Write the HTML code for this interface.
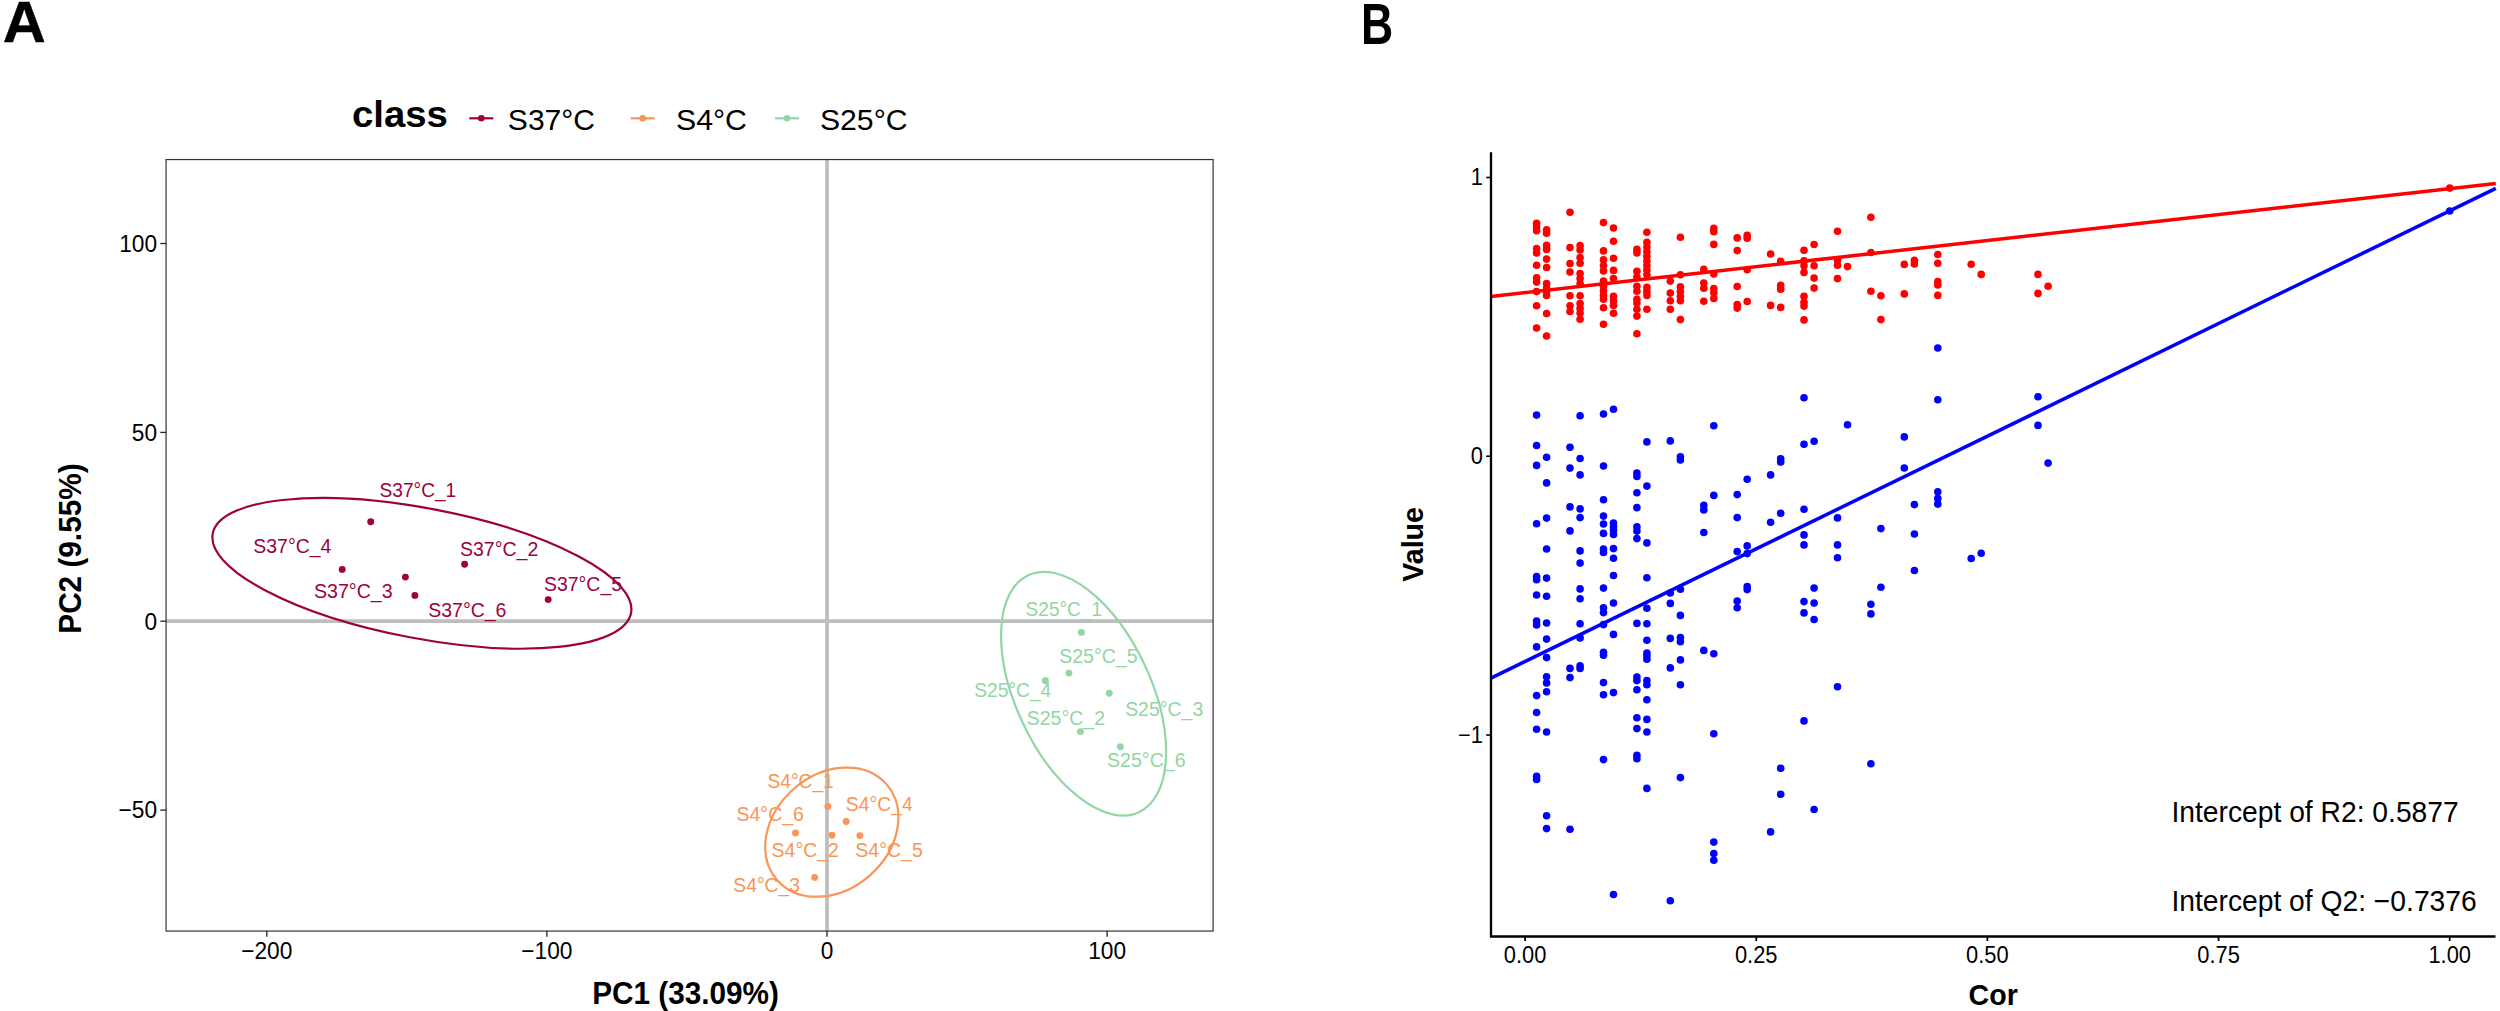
<!DOCTYPE html>
<html lang="en"><head><meta charset="utf-8"><title>PCA score plot and permutation test</title>
<style>
html,body{margin:0;padding:0;background:#fff;}
body{width:2500px;height:1011px;overflow:hidden;}
svg{display:block;}
text{font-family:"Liberation Sans",Arial,Helvetica,sans-serif;}
.b{font-weight:bold;}
</style></head><body>
<svg width="2500" height="1011" viewBox="0 0 2500 1011">
<rect x="0" y="0" width="2500" height="1011" fill="#ffffff"/>

<line x1="166.05" x2="1213.1" y1="621.05" y2="621.05" stroke="#BEBEBE" stroke-width="3.8"/>
<line x1="827.0" x2="827.0" y1="159.55" y2="931.05" stroke="#BEBEBE" stroke-width="3.8"/>
<ellipse cx="421.9" cy="573.3" rx="212.9" ry="65.1" transform="rotate(10.75 421.9 573.3)" fill="none" stroke="#9E0142" stroke-width="2.2"/>
<ellipse cx="1083.6" cy="693.7" rx="130.8" ry="67.5" transform="rotate(64.95 1083.6 693.7)" fill="none" stroke="#93D5A3" stroke-width="2.2"/>
<ellipse cx="831.8" cy="832.15" rx="72.7" ry="57.6" transform="rotate(-41.1 831.8 832.15)" fill="none" stroke="#F99555" stroke-width="2.2"/>
<circle cx="370.7" cy="521.7" r="3.45" fill="#9E0142"/>
<circle cx="342.2" cy="569.4" r="3.45" fill="#9E0142"/>
<circle cx="405.4" cy="577.1" r="3.45" fill="#9E0142"/>
<circle cx="414.9" cy="595.4" r="3.45" fill="#9E0142"/>
<circle cx="464.6" cy="564.3" r="3.45" fill="#9E0142"/>
<circle cx="548.2" cy="599.6" r="3.45" fill="#9E0142"/>
<circle cx="1081.4" cy="632.4" r="3.45" fill="#93D5A3"/>
<circle cx="1068.9" cy="673.1" r="3.45" fill="#93D5A3"/>
<circle cx="1045.4" cy="680.8" r="3.45" fill="#93D5A3"/>
<circle cx="1109.3" cy="693.2" r="3.45" fill="#93D5A3"/>
<circle cx="1080.4" cy="731.6" r="3.45" fill="#93D5A3"/>
<circle cx="1120.4" cy="746.7" r="3.45" fill="#93D5A3"/>
<circle cx="827.9" cy="806.4" r="3.45" fill="#F99555"/>
<circle cx="846.2" cy="821.5" r="3.45" fill="#F99555"/>
<circle cx="795.5" cy="832.9" r="3.45" fill="#F99555"/>
<circle cx="832.0" cy="835.2" r="3.45" fill="#F99555"/>
<circle cx="859.9" cy="835.6" r="3.45" fill="#F99555"/>
<circle cx="814.7" cy="877.4" r="3.45" fill="#F99555"/>
<text x="379.50" y="497.00" font-size="20.0" fill="#9E0142" textLength="76.76" lengthAdjust="spacingAndGlyphs">S37°C_1</text>
<text x="253.37" y="553.00" font-size="20.0" fill="#9E0142" textLength="77.93" lengthAdjust="spacingAndGlyphs">S37°C_4</text>
<text x="459.96" y="556.00" font-size="20.0" fill="#9E0142" textLength="78.36" lengthAdjust="spacingAndGlyphs">S37°C_2</text>
<text x="313.96" y="598.10" font-size="20.0" fill="#9E0142" textLength="78.66" lengthAdjust="spacingAndGlyphs">S37°C_3</text>
<text x="428.27" y="616.80" font-size="20.0" fill="#9E0142" textLength="78.09" lengthAdjust="spacingAndGlyphs">S37°C_6</text>
<text x="543.97" y="590.80" font-size="20.0" fill="#9E0142" textLength="78.08" lengthAdjust="spacingAndGlyphs">S37°C_5</text>
<text x="1025.60" y="615.60" font-size="20.0" fill="#93D5A3" textLength="76.45" lengthAdjust="spacingAndGlyphs">S25°C_1</text>
<text x="1059.27" y="662.60" font-size="20.0" fill="#93D5A3" textLength="78.29" lengthAdjust="spacingAndGlyphs">S25°C_5</text>
<text x="974.19" y="696.90" font-size="20.0" fill="#93D5A3" textLength="77.11" lengthAdjust="spacingAndGlyphs">S25°C_4</text>
<text x="1125.17" y="716.40" font-size="20.0" fill="#93D5A3" textLength="78.04" lengthAdjust="spacingAndGlyphs">S25°C_3</text>
<text x="1026.66" y="724.80" font-size="20.0" fill="#93D5A3" textLength="78.36" lengthAdjust="spacingAndGlyphs">S25°C_2</text>
<text x="1106.96" y="766.90" font-size="20.0" fill="#93D5A3" textLength="78.71" lengthAdjust="spacingAndGlyphs">S25°C_6</text>
<text x="767.49" y="787.70" font-size="20.0" fill="#F99555" textLength="66.28" lengthAdjust="spacingAndGlyphs">S4°C_1</text>
<text x="845.78" y="811.20" font-size="20.0" fill="#F99555" textLength="66.93" lengthAdjust="spacingAndGlyphs">S4°C_4</text>
<text x="736.46" y="821.00" font-size="20.0" fill="#F99555" textLength="67.50" lengthAdjust="spacingAndGlyphs">S4°C_6</text>
<text x="771.57" y="856.60" font-size="20.0" fill="#F99555" textLength="67.32" lengthAdjust="spacingAndGlyphs">S4°C_2</text>
<text x="855.26" y="856.60" font-size="20.0" fill="#F99555" textLength="67.70" lengthAdjust="spacingAndGlyphs">S4°C_5</text>
<text x="733.28" y="892.20" font-size="20.0" fill="#F99555" textLength="66.79" lengthAdjust="spacingAndGlyphs">S4°C_3</text>
<rect x="166.05" y="159.55" width="1047.05" height="771.5" fill="none" stroke="#333333" stroke-width="1.2"/>
<line x1="160.3" x2="166.05" y1="243.5" y2="243.5" stroke="#222" stroke-width="1.3"/>
<text x="157.10" y="251.80" font-size="23.56" fill="#000" text-anchor="end" textLength="37.86" lengthAdjust="spacingAndGlyphs">100</text>
<line x1="160.3" x2="166.05" y1="432.4" y2="432.4" stroke="#222" stroke-width="1.3"/>
<text x="157.10" y="440.70" font-size="23.56" fill="#000" text-anchor="end" textLength="25.24" lengthAdjust="spacingAndGlyphs">50</text>
<line x1="160.3" x2="166.05" y1="621.2" y2="621.2" stroke="#222" stroke-width="1.3"/>
<text x="157.10" y="629.50" font-size="23.56" fill="#000" text-anchor="end" textLength="12.62" lengthAdjust="spacingAndGlyphs">0</text>
<line x1="160.3" x2="166.05" y1="810.1" y2="810.1" stroke="#222" stroke-width="1.3"/>
<text x="157.10" y="818.40" font-size="23.56" fill="#000" text-anchor="end" textLength="38.50" lengthAdjust="spacingAndGlyphs">−50</text>
<line x1="266.8" x2="266.8" y1="931.05" y2="936.7" stroke="#222" stroke-width="1.3"/>
<text x="266.80" y="959.10" font-size="23.56" fill="#000" text-anchor="middle" textLength="51.12" lengthAdjust="spacingAndGlyphs">−200</text>
<line x1="546.9" x2="546.9" y1="931.05" y2="936.7" stroke="#222" stroke-width="1.3"/>
<text x="546.90" y="959.10" font-size="23.56" fill="#000" text-anchor="middle" textLength="51.12" lengthAdjust="spacingAndGlyphs">−100</text>
<line x1="827.0" x2="827.0" y1="931.05" y2="936.7" stroke="#222" stroke-width="1.3"/>
<text x="827.00" y="959.10" font-size="23.56" fill="#000" text-anchor="middle" textLength="12.62" lengthAdjust="spacingAndGlyphs">0</text>
<line x1="1107.1" x2="1107.1" y1="931.05" y2="936.7" stroke="#222" stroke-width="1.3"/>
<text x="1107.10" y="959.10" font-size="23.56" fill="#000" text-anchor="middle" textLength="37.86" lengthAdjust="spacingAndGlyphs">100</text>
<line x1="469.3" x2="493.3" y1="118.3" y2="118.3" stroke="#9E0142" stroke-width="2.2"/>
<circle cx="481.3" cy="118.3" r="3.3" fill="#9E0142"/>
<line x1="630.7" x2="654.7" y1="118.3" y2="118.3" stroke="#F99555" stroke-width="2.2"/>
<circle cx="642.7" cy="118.3" r="3.3" fill="#F99555"/>
<line x1="775" x2="799" y1="118.3" y2="118.3" stroke="#93D5A3" stroke-width="2.2"/>
<circle cx="787" cy="118.3" r="3.3" fill="#93D5A3"/>
<circle cx="1536.6" cy="223.4" r="3.8" fill="#FF0000"/>
<circle cx="1536.6" cy="227.2" r="3.8" fill="#FF0000"/>
<circle cx="1536.6" cy="230.7" r="3.8" fill="#FF0000"/>
<circle cx="1536.6" cy="248.6" r="3.8" fill="#FF0000"/>
<circle cx="1536.6" cy="252.9" r="3.8" fill="#FF0000"/>
<circle cx="1536.6" cy="265.2" r="3.8" fill="#FF0000"/>
<circle cx="1536.6" cy="277.8" r="3.8" fill="#FF0000"/>
<circle cx="1536.6" cy="282.1" r="3.8" fill="#FF0000"/>
<circle cx="1536.6" cy="291.6" r="3.8" fill="#FF0000"/>
<circle cx="1536.6" cy="305.8" r="3.8" fill="#FF0000"/>
<circle cx="1536.6" cy="328.0" r="3.8" fill="#FF0000"/>
<circle cx="1546.6" cy="229.9" r="3.8" fill="#FF0000"/>
<circle cx="1546.6" cy="233.3" r="3.8" fill="#FF0000"/>
<circle cx="1546.6" cy="245.3" r="3.8" fill="#FF0000"/>
<circle cx="1546.6" cy="249.4" r="3.8" fill="#FF0000"/>
<circle cx="1546.6" cy="259.1" r="3.8" fill="#FF0000"/>
<circle cx="1546.6" cy="267.5" r="3.8" fill="#FF0000"/>
<circle cx="1546.6" cy="283.6" r="3.8" fill="#FF0000"/>
<circle cx="1546.6" cy="287.7" r="3.8" fill="#FF0000"/>
<circle cx="1546.6" cy="291.6" r="3.8" fill="#FF0000"/>
<circle cx="1546.6" cy="295.4" r="3.8" fill="#FF0000"/>
<circle cx="1546.6" cy="313.5" r="3.8" fill="#FF0000"/>
<circle cx="1546.6" cy="336.0" r="3.8" fill="#FF0000"/>
<circle cx="1570.0" cy="212.3" r="3.8" fill="#FF0000"/>
<circle cx="1570.0" cy="247.6" r="3.8" fill="#FF0000"/>
<circle cx="1570.0" cy="263.5" r="3.8" fill="#FF0000"/>
<circle cx="1570.0" cy="272.1" r="3.8" fill="#FF0000"/>
<circle cx="1570.0" cy="295.7" r="3.8" fill="#FF0000"/>
<circle cx="1570.0" cy="305.7" r="3.8" fill="#FF0000"/>
<circle cx="1570.0" cy="311.5" r="3.8" fill="#FF0000"/>
<circle cx="1580.1" cy="245.6" r="3.8" fill="#FF0000"/>
<circle cx="1580.1" cy="249.9" r="3.8" fill="#FF0000"/>
<circle cx="1580.1" cy="257.5" r="3.8" fill="#FF0000"/>
<circle cx="1580.1" cy="263.2" r="3.8" fill="#FF0000"/>
<circle cx="1580.1" cy="273.5" r="3.8" fill="#FF0000"/>
<circle cx="1580.1" cy="278.5" r="3.8" fill="#FF0000"/>
<circle cx="1580.1" cy="283.6" r="3.8" fill="#FF0000"/>
<circle cx="1580.1" cy="295.7" r="3.8" fill="#FF0000"/>
<circle cx="1580.1" cy="303.5" r="3.8" fill="#FF0000"/>
<circle cx="1580.1" cy="308.4" r="3.8" fill="#FF0000"/>
<circle cx="1580.1" cy="313.0" r="3.8" fill="#FF0000"/>
<circle cx="1580.1" cy="319.2" r="3.8" fill="#FF0000"/>
<circle cx="1603.5" cy="222.6" r="3.8" fill="#FF0000"/>
<circle cx="1603.5" cy="250.9" r="3.8" fill="#FF0000"/>
<circle cx="1603.5" cy="259.7" r="3.8" fill="#FF0000"/>
<circle cx="1603.5" cy="265.5" r="3.8" fill="#FF0000"/>
<circle cx="1603.5" cy="270.9" r="3.8" fill="#FF0000"/>
<circle cx="1603.5" cy="281.1" r="3.8" fill="#FF0000"/>
<circle cx="1603.5" cy="286.2" r="3.8" fill="#FF0000"/>
<circle cx="1603.5" cy="290.8" r="3.8" fill="#FF0000"/>
<circle cx="1603.5" cy="295.4" r="3.8" fill="#FF0000"/>
<circle cx="1603.5" cy="299.2" r="3.8" fill="#FF0000"/>
<circle cx="1603.5" cy="307.7" r="3.8" fill="#FF0000"/>
<circle cx="1603.5" cy="324.2" r="3.8" fill="#FF0000"/>
<circle cx="1613.5" cy="228.0" r="3.8" fill="#FF0000"/>
<circle cx="1613.5" cy="241.3" r="3.8" fill="#FF0000"/>
<circle cx="1613.5" cy="258.3" r="3.8" fill="#FF0000"/>
<circle cx="1613.5" cy="270.4" r="3.8" fill="#FF0000"/>
<circle cx="1613.5" cy="278.5" r="3.8" fill="#FF0000"/>
<circle cx="1613.5" cy="296.2" r="3.8" fill="#FF0000"/>
<circle cx="1613.5" cy="300.8" r="3.8" fill="#FF0000"/>
<circle cx="1613.5" cy="305.4" r="3.8" fill="#FF0000"/>
<circle cx="1613.5" cy="313.3" r="3.8" fill="#FF0000"/>
<circle cx="1636.9" cy="249.4" r="3.8" fill="#FF0000"/>
<circle cx="1636.9" cy="252.9" r="3.8" fill="#FF0000"/>
<circle cx="1636.9" cy="271.3" r="3.8" fill="#FF0000"/>
<circle cx="1636.9" cy="277.0" r="3.8" fill="#FF0000"/>
<circle cx="1636.9" cy="286.2" r="3.8" fill="#FF0000"/>
<circle cx="1636.9" cy="291.3" r="3.8" fill="#FF0000"/>
<circle cx="1636.9" cy="299.2" r="3.8" fill="#FF0000"/>
<circle cx="1636.9" cy="303.1" r="3.8" fill="#FF0000"/>
<circle cx="1636.9" cy="309.2" r="3.8" fill="#FF0000"/>
<circle cx="1636.9" cy="316.1" r="3.8" fill="#FF0000"/>
<circle cx="1636.9" cy="333.7" r="3.8" fill="#FF0000"/>
<circle cx="1646.9" cy="232.2" r="3.8" fill="#FF0000"/>
<circle cx="1646.9" cy="242.2" r="3.8" fill="#FF0000"/>
<circle cx="1646.9" cy="247.1" r="3.8" fill="#FF0000"/>
<circle cx="1646.9" cy="251.7" r="3.8" fill="#FF0000"/>
<circle cx="1646.9" cy="256.3" r="3.8" fill="#FF0000"/>
<circle cx="1646.9" cy="260.9" r="3.8" fill="#FF0000"/>
<circle cx="1646.9" cy="265.5" r="3.8" fill="#FF0000"/>
<circle cx="1646.9" cy="270.1" r="3.8" fill="#FF0000"/>
<circle cx="1646.9" cy="274.7" r="3.8" fill="#FF0000"/>
<circle cx="1646.9" cy="287.4" r="3.8" fill="#FF0000"/>
<circle cx="1646.9" cy="291.6" r="3.8" fill="#FF0000"/>
<circle cx="1646.9" cy="295.4" r="3.8" fill="#FF0000"/>
<circle cx="1646.9" cy="309.2" r="3.8" fill="#FF0000"/>
<circle cx="1670.3" cy="281.1" r="3.8" fill="#FF0000"/>
<circle cx="1670.3" cy="293.1" r="3.8" fill="#FF0000"/>
<circle cx="1670.3" cy="300.8" r="3.8" fill="#FF0000"/>
<circle cx="1670.3" cy="309.2" r="3.8" fill="#FF0000"/>
<circle cx="1680.4" cy="237.2" r="3.8" fill="#FF0000"/>
<circle cx="1680.4" cy="274.7" r="3.8" fill="#FF0000"/>
<circle cx="1680.4" cy="286.7" r="3.8" fill="#FF0000"/>
<circle cx="1680.4" cy="291.6" r="3.8" fill="#FF0000"/>
<circle cx="1680.4" cy="296.2" r="3.8" fill="#FF0000"/>
<circle cx="1680.4" cy="300.8" r="3.8" fill="#FF0000"/>
<circle cx="1680.4" cy="319.6" r="3.8" fill="#FF0000"/>
<circle cx="1703.8" cy="269.3" r="3.8" fill="#FF0000"/>
<circle cx="1703.8" cy="283.1" r="3.8" fill="#FF0000"/>
<circle cx="1703.8" cy="288.2" r="3.8" fill="#FF0000"/>
<circle cx="1703.8" cy="301.2" r="3.8" fill="#FF0000"/>
<circle cx="1713.8" cy="228.4" r="3.8" fill="#FF0000"/>
<circle cx="1713.8" cy="231.8" r="3.8" fill="#FF0000"/>
<circle cx="1713.8" cy="244.4" r="3.8" fill="#FF0000"/>
<circle cx="1713.8" cy="273.9" r="3.8" fill="#FF0000"/>
<circle cx="1713.8" cy="288.5" r="3.8" fill="#FF0000"/>
<circle cx="1713.8" cy="292.8" r="3.8" fill="#FF0000"/>
<circle cx="1713.8" cy="298.5" r="3.8" fill="#FF0000"/>
<circle cx="1737.2" cy="237.9" r="3.8" fill="#FF0000"/>
<circle cx="1737.2" cy="250.6" r="3.8" fill="#FF0000"/>
<circle cx="1737.2" cy="286.5" r="3.8" fill="#FF0000"/>
<circle cx="1737.2" cy="304.6" r="3.8" fill="#FF0000"/>
<circle cx="1737.2" cy="308.1" r="3.8" fill="#FF0000"/>
<circle cx="1747.2" cy="235.2" r="3.8" fill="#FF0000"/>
<circle cx="1747.2" cy="238.2" r="3.8" fill="#FF0000"/>
<circle cx="1747.2" cy="269.8" r="3.8" fill="#FF0000"/>
<circle cx="1747.2" cy="301.5" r="3.8" fill="#FF0000"/>
<circle cx="1770.6" cy="254.0" r="3.8" fill="#FF0000"/>
<circle cx="1770.6" cy="305.4" r="3.8" fill="#FF0000"/>
<circle cx="1780.7" cy="261.2" r="3.8" fill="#FF0000"/>
<circle cx="1780.7" cy="285.4" r="3.8" fill="#FF0000"/>
<circle cx="1780.7" cy="289.3" r="3.8" fill="#FF0000"/>
<circle cx="1780.7" cy="307.4" r="3.8" fill="#FF0000"/>
<circle cx="1804.0" cy="250.2" r="3.8" fill="#FF0000"/>
<circle cx="1804.0" cy="260.9" r="3.8" fill="#FF0000"/>
<circle cx="1804.0" cy="265.8" r="3.8" fill="#FF0000"/>
<circle cx="1804.0" cy="272.4" r="3.8" fill="#FF0000"/>
<circle cx="1804.0" cy="296.2" r="3.8" fill="#FF0000"/>
<circle cx="1804.0" cy="302.3" r="3.8" fill="#FF0000"/>
<circle cx="1804.0" cy="306.1" r="3.8" fill="#FF0000"/>
<circle cx="1804.0" cy="319.9" r="3.8" fill="#FF0000"/>
<circle cx="1814.1" cy="244.5" r="3.8" fill="#FF0000"/>
<circle cx="1814.1" cy="265.8" r="3.8" fill="#FF0000"/>
<circle cx="1814.1" cy="278.1" r="3.8" fill="#FF0000"/>
<circle cx="1814.1" cy="288.1" r="3.8" fill="#FF0000"/>
<circle cx="1837.5" cy="231.3" r="3.8" fill="#FF0000"/>
<circle cx="1837.5" cy="260.2" r="3.8" fill="#FF0000"/>
<circle cx="1837.5" cy="265.2" r="3.8" fill="#FF0000"/>
<circle cx="1837.5" cy="278.6" r="3.8" fill="#FF0000"/>
<circle cx="1847.5" cy="266.6" r="3.8" fill="#FF0000"/>
<circle cx="1870.9" cy="217.2" r="3.8" fill="#FF0000"/>
<circle cx="1870.9" cy="252.5" r="3.8" fill="#FF0000"/>
<circle cx="1870.9" cy="291.3" r="3.8" fill="#FF0000"/>
<circle cx="1880.9" cy="295.7" r="3.8" fill="#FF0000"/>
<circle cx="1880.9" cy="319.6" r="3.8" fill="#FF0000"/>
<circle cx="1904.3" cy="264.4" r="3.8" fill="#FF0000"/>
<circle cx="1904.3" cy="293.9" r="3.8" fill="#FF0000"/>
<circle cx="1914.4" cy="260.2" r="3.8" fill="#FF0000"/>
<circle cx="1914.4" cy="264.0" r="3.8" fill="#FF0000"/>
<circle cx="1937.8" cy="254.5" r="3.8" fill="#FF0000"/>
<circle cx="1937.8" cy="263.2" r="3.8" fill="#FF0000"/>
<circle cx="1937.8" cy="281.6" r="3.8" fill="#FF0000"/>
<circle cx="1937.8" cy="285.0" r="3.8" fill="#FF0000"/>
<circle cx="1937.8" cy="295.4" r="3.8" fill="#FF0000"/>
<circle cx="1971.2" cy="264.3" r="3.8" fill="#FF0000"/>
<circle cx="1981.2" cy="274.4" r="3.8" fill="#FF0000"/>
<circle cx="2038.0" cy="274.4" r="3.8" fill="#FF0000"/>
<circle cx="2038.0" cy="293.4" r="3.8" fill="#FF0000"/>
<circle cx="2048.1" cy="286.2" r="3.8" fill="#FF0000"/>
<circle cx="2449.7" cy="188.1" r="3.8" fill="#FF0000"/>
<circle cx="1536.6" cy="415.1" r="3.8" fill="#0000FF"/>
<circle cx="1580.1" cy="415.7" r="3.8" fill="#0000FF"/>
<circle cx="1603.5" cy="414.0" r="3.8" fill="#0000FF"/>
<circle cx="1613.5" cy="409.3" r="3.8" fill="#0000FF"/>
<circle cx="1713.8" cy="425.8" r="3.8" fill="#0000FF"/>
<circle cx="1536.6" cy="445.5" r="3.8" fill="#0000FF"/>
<circle cx="1570.0" cy="447.3" r="3.8" fill="#0000FF"/>
<circle cx="1646.9" cy="441.9" r="3.8" fill="#0000FF"/>
<circle cx="1670.3" cy="440.9" r="3.8" fill="#0000FF"/>
<circle cx="1546.6" cy="457.3" r="3.8" fill="#0000FF"/>
<circle cx="1580.1" cy="458.5" r="3.8" fill="#0000FF"/>
<circle cx="1680.4" cy="456.8" r="3.8" fill="#0000FF"/>
<circle cx="1680.4" cy="459.9" r="3.8" fill="#0000FF"/>
<circle cx="1536.6" cy="465.4" r="3.8" fill="#0000FF"/>
<circle cx="1570.0" cy="468.1" r="3.8" fill="#0000FF"/>
<circle cx="1603.5" cy="466.0" r="3.8" fill="#0000FF"/>
<circle cx="1580.1" cy="474.9" r="3.8" fill="#0000FF"/>
<circle cx="1636.9" cy="473.0" r="3.8" fill="#0000FF"/>
<circle cx="1636.9" cy="476.4" r="3.8" fill="#0000FF"/>
<circle cx="1546.6" cy="482.9" r="3.8" fill="#0000FF"/>
<circle cx="1646.9" cy="486.1" r="3.8" fill="#0000FF"/>
<circle cx="1747.2" cy="479.2" r="3.8" fill="#0000FF"/>
<circle cx="1536.6" cy="523.7" r="3.8" fill="#0000FF"/>
<circle cx="1536.6" cy="576.6" r="3.8" fill="#0000FF"/>
<circle cx="1536.6" cy="579.7" r="3.8" fill="#0000FF"/>
<circle cx="1536.6" cy="595.0" r="3.8" fill="#0000FF"/>
<circle cx="1536.6" cy="621.1" r="3.8" fill="#0000FF"/>
<circle cx="1536.6" cy="624.9" r="3.8" fill="#0000FF"/>
<circle cx="1546.6" cy="518.1" r="3.8" fill="#0000FF"/>
<circle cx="1546.6" cy="549.0" r="3.8" fill="#0000FF"/>
<circle cx="1546.6" cy="578.1" r="3.8" fill="#0000FF"/>
<circle cx="1546.6" cy="596.2" r="3.8" fill="#0000FF"/>
<circle cx="1546.6" cy="623.0" r="3.8" fill="#0000FF"/>
<circle cx="1546.6" cy="639.1" r="3.8" fill="#0000FF"/>
<circle cx="1570.0" cy="506.9" r="3.8" fill="#0000FF"/>
<circle cx="1570.0" cy="530.9" r="3.8" fill="#0000FF"/>
<circle cx="1580.1" cy="508.9" r="3.8" fill="#0000FF"/>
<circle cx="1580.1" cy="517.6" r="3.8" fill="#0000FF"/>
<circle cx="1580.1" cy="550.9" r="3.8" fill="#0000FF"/>
<circle cx="1580.1" cy="563.1" r="3.8" fill="#0000FF"/>
<circle cx="1580.1" cy="588.9" r="3.8" fill="#0000FF"/>
<circle cx="1580.1" cy="598.8" r="3.8" fill="#0000FF"/>
<circle cx="1580.1" cy="623.7" r="3.8" fill="#0000FF"/>
<circle cx="1580.1" cy="637.9" r="3.8" fill="#0000FF"/>
<circle cx="1603.5" cy="499.7" r="3.8" fill="#0000FF"/>
<circle cx="1603.5" cy="516.1" r="3.8" fill="#0000FF"/>
<circle cx="1603.5" cy="524.0" r="3.8" fill="#0000FF"/>
<circle cx="1603.5" cy="533.4" r="3.8" fill="#0000FF"/>
<circle cx="1603.5" cy="549.0" r="3.8" fill="#0000FF"/>
<circle cx="1603.5" cy="552.5" r="3.8" fill="#0000FF"/>
<circle cx="1603.5" cy="588.1" r="3.8" fill="#0000FF"/>
<circle cx="1603.5" cy="607.7" r="3.8" fill="#0000FF"/>
<circle cx="1603.5" cy="612.6" r="3.8" fill="#0000FF"/>
<circle cx="1603.5" cy="624.6" r="3.8" fill="#0000FF"/>
<circle cx="1613.5" cy="523.0" r="3.8" fill="#0000FF"/>
<circle cx="1613.5" cy="526.8" r="3.8" fill="#0000FF"/>
<circle cx="1613.5" cy="530.2" r="3.8" fill="#0000FF"/>
<circle cx="1613.5" cy="534.5" r="3.8" fill="#0000FF"/>
<circle cx="1613.5" cy="548.6" r="3.8" fill="#0000FF"/>
<circle cx="1613.5" cy="558.2" r="3.8" fill="#0000FF"/>
<circle cx="1613.5" cy="575.5" r="3.8" fill="#0000FF"/>
<circle cx="1613.5" cy="603.0" r="3.8" fill="#0000FF"/>
<circle cx="1613.5" cy="634.4" r="3.8" fill="#0000FF"/>
<circle cx="1636.9" cy="492.8" r="3.8" fill="#0000FF"/>
<circle cx="1636.9" cy="507.6" r="3.8" fill="#0000FF"/>
<circle cx="1636.9" cy="526.8" r="3.8" fill="#0000FF"/>
<circle cx="1636.9" cy="531.1" r="3.8" fill="#0000FF"/>
<circle cx="1636.9" cy="538.6" r="3.8" fill="#0000FF"/>
<circle cx="1636.9" cy="623.4" r="3.8" fill="#0000FF"/>
<circle cx="1646.9" cy="542.9" r="3.8" fill="#0000FF"/>
<circle cx="1646.9" cy="577.7" r="3.8" fill="#0000FF"/>
<circle cx="1646.9" cy="608.3" r="3.8" fill="#0000FF"/>
<circle cx="1646.9" cy="623.8" r="3.8" fill="#0000FF"/>
<circle cx="1646.9" cy="640.2" r="3.8" fill="#0000FF"/>
<circle cx="1670.3" cy="593.0" r="3.8" fill="#0000FF"/>
<circle cx="1670.3" cy="603.4" r="3.8" fill="#0000FF"/>
<circle cx="1670.3" cy="638.4" r="3.8" fill="#0000FF"/>
<circle cx="1680.4" cy="589.3" r="3.8" fill="#0000FF"/>
<circle cx="1680.4" cy="615.4" r="3.8" fill="#0000FF"/>
<circle cx="1680.4" cy="637.5" r="3.8" fill="#0000FF"/>
<circle cx="1680.4" cy="641.7" r="3.8" fill="#0000FF"/>
<circle cx="1703.8" cy="505.3" r="3.8" fill="#0000FF"/>
<circle cx="1703.8" cy="509.9" r="3.8" fill="#0000FF"/>
<circle cx="1703.8" cy="532.5" r="3.8" fill="#0000FF"/>
<circle cx="1713.8" cy="495.4" r="3.8" fill="#0000FF"/>
<circle cx="1737.2" cy="494.6" r="3.8" fill="#0000FF"/>
<circle cx="1737.2" cy="517.6" r="3.8" fill="#0000FF"/>
<circle cx="1737.2" cy="551.6" r="3.8" fill="#0000FF"/>
<circle cx="1737.2" cy="601.1" r="3.8" fill="#0000FF"/>
<circle cx="1737.2" cy="607.7" r="3.8" fill="#0000FF"/>
<circle cx="1747.2" cy="545.9" r="3.8" fill="#0000FF"/>
<circle cx="1747.2" cy="553.6" r="3.8" fill="#0000FF"/>
<circle cx="1747.2" cy="586.6" r="3.8" fill="#0000FF"/>
<circle cx="1747.2" cy="589.6" r="3.8" fill="#0000FF"/>
<circle cx="1536.6" cy="646.9" r="3.8" fill="#0000FF"/>
<circle cx="1536.6" cy="695.6" r="3.8" fill="#0000FF"/>
<circle cx="1536.6" cy="712.5" r="3.8" fill="#0000FF"/>
<circle cx="1536.6" cy="729.2" r="3.8" fill="#0000FF"/>
<circle cx="1536.6" cy="776.4" r="3.8" fill="#0000FF"/>
<circle cx="1536.6" cy="779.5" r="3.8" fill="#0000FF"/>
<circle cx="1546.6" cy="657.6" r="3.8" fill="#0000FF"/>
<circle cx="1546.6" cy="676.8" r="3.8" fill="#0000FF"/>
<circle cx="1546.6" cy="682.9" r="3.8" fill="#0000FF"/>
<circle cx="1546.6" cy="691.7" r="3.8" fill="#0000FF"/>
<circle cx="1546.6" cy="732.0" r="3.8" fill="#0000FF"/>
<circle cx="1570.0" cy="668.4" r="3.8" fill="#0000FF"/>
<circle cx="1570.0" cy="677.6" r="3.8" fill="#0000FF"/>
<circle cx="1580.1" cy="665.8" r="3.8" fill="#0000FF"/>
<circle cx="1580.1" cy="668.4" r="3.8" fill="#0000FF"/>
<circle cx="1603.5" cy="652.3" r="3.8" fill="#0000FF"/>
<circle cx="1603.5" cy="655.3" r="3.8" fill="#0000FF"/>
<circle cx="1603.5" cy="682.6" r="3.8" fill="#0000FF"/>
<circle cx="1603.5" cy="694.7" r="3.8" fill="#0000FF"/>
<circle cx="1603.5" cy="759.6" r="3.8" fill="#0000FF"/>
<circle cx="1613.5" cy="692.6" r="3.8" fill="#0000FF"/>
<circle cx="1636.9" cy="677.1" r="3.8" fill="#0000FF"/>
<circle cx="1636.9" cy="680.6" r="3.8" fill="#0000FF"/>
<circle cx="1636.9" cy="689.8" r="3.8" fill="#0000FF"/>
<circle cx="1636.9" cy="717.7" r="3.8" fill="#0000FF"/>
<circle cx="1636.9" cy="728.6" r="3.8" fill="#0000FF"/>
<circle cx="1636.9" cy="755.3" r="3.8" fill="#0000FF"/>
<circle cx="1636.9" cy="758.8" r="3.8" fill="#0000FF"/>
<circle cx="1646.9" cy="653.0" r="3.8" fill="#0000FF"/>
<circle cx="1646.9" cy="656.1" r="3.8" fill="#0000FF"/>
<circle cx="1646.9" cy="659.2" r="3.8" fill="#0000FF"/>
<circle cx="1646.9" cy="680.6" r="3.8" fill="#0000FF"/>
<circle cx="1646.9" cy="684.8" r="3.8" fill="#0000FF"/>
<circle cx="1646.9" cy="699.8" r="3.8" fill="#0000FF"/>
<circle cx="1646.9" cy="719.4" r="3.8" fill="#0000FF"/>
<circle cx="1646.9" cy="732.0" r="3.8" fill="#0000FF"/>
<circle cx="1646.9" cy="788.4" r="3.8" fill="#0000FF"/>
<circle cx="1670.3" cy="667.9" r="3.8" fill="#0000FF"/>
<circle cx="1680.4" cy="659.9" r="3.8" fill="#0000FF"/>
<circle cx="1680.4" cy="684.8" r="3.8" fill="#0000FF"/>
<circle cx="1680.4" cy="777.6" r="3.8" fill="#0000FF"/>
<circle cx="1703.8" cy="650.4" r="3.8" fill="#0000FF"/>
<circle cx="1713.8" cy="653.8" r="3.8" fill="#0000FF"/>
<circle cx="1713.8" cy="733.8" r="3.8" fill="#0000FF"/>
<circle cx="1546.6" cy="815.8" r="3.8" fill="#0000FF"/>
<circle cx="1546.6" cy="828.6" r="3.8" fill="#0000FF"/>
<circle cx="1570.0" cy="829.2" r="3.8" fill="#0000FF"/>
<circle cx="1713.8" cy="842.1" r="3.8" fill="#0000FF"/>
<circle cx="1713.8" cy="853.6" r="3.8" fill="#0000FF"/>
<circle cx="1713.8" cy="860.2" r="3.8" fill="#0000FF"/>
<circle cx="1613.5" cy="894.5" r="3.8" fill="#0000FF"/>
<circle cx="1670.3" cy="900.7" r="3.8" fill="#0000FF"/>
<circle cx="1937.8" cy="348.0" r="3.8" fill="#0000FF"/>
<circle cx="1804.0" cy="397.8" r="3.8" fill="#0000FF"/>
<circle cx="1937.8" cy="399.8" r="3.8" fill="#0000FF"/>
<circle cx="2038.0" cy="396.7" r="3.8" fill="#0000FF"/>
<circle cx="1847.5" cy="424.8" r="3.8" fill="#0000FF"/>
<circle cx="1904.3" cy="436.9" r="3.8" fill="#0000FF"/>
<circle cx="2038.0" cy="425.4" r="3.8" fill="#0000FF"/>
<circle cx="1804.0" cy="444.2" r="3.8" fill="#0000FF"/>
<circle cx="1814.1" cy="441.2" r="3.8" fill="#0000FF"/>
<circle cx="1780.7" cy="458.8" r="3.8" fill="#0000FF"/>
<circle cx="1780.7" cy="461.9" r="3.8" fill="#0000FF"/>
<circle cx="1770.6" cy="474.9" r="3.8" fill="#0000FF"/>
<circle cx="1904.3" cy="468.0" r="3.8" fill="#0000FF"/>
<circle cx="2048.1" cy="463.1" r="3.8" fill="#0000FF"/>
<circle cx="1937.8" cy="491.8" r="3.8" fill="#0000FF"/>
<circle cx="1937.8" cy="498.4" r="3.8" fill="#0000FF"/>
<circle cx="1937.8" cy="504.1" r="3.8" fill="#0000FF"/>
<circle cx="1914.4" cy="504.6" r="3.8" fill="#0000FF"/>
<circle cx="1804.0" cy="509.2" r="3.8" fill="#0000FF"/>
<circle cx="1780.7" cy="513.3" r="3.8" fill="#0000FF"/>
<circle cx="1770.6" cy="522.2" r="3.8" fill="#0000FF"/>
<circle cx="1837.5" cy="517.9" r="3.8" fill="#0000FF"/>
<circle cx="1880.9" cy="528.6" r="3.8" fill="#0000FF"/>
<circle cx="1914.4" cy="534.0" r="3.8" fill="#0000FF"/>
<circle cx="1804.0" cy="534.9" r="3.8" fill="#0000FF"/>
<circle cx="1804.0" cy="544.9" r="3.8" fill="#0000FF"/>
<circle cx="1837.5" cy="544.9" r="3.8" fill="#0000FF"/>
<circle cx="1837.5" cy="557.8" r="3.8" fill="#0000FF"/>
<circle cx="1971.2" cy="558.5" r="3.8" fill="#0000FF"/>
<circle cx="1981.2" cy="553.2" r="3.8" fill="#0000FF"/>
<circle cx="1914.4" cy="570.5" r="3.8" fill="#0000FF"/>
<circle cx="1814.1" cy="588.1" r="3.8" fill="#0000FF"/>
<circle cx="1880.9" cy="587.3" r="3.8" fill="#0000FF"/>
<circle cx="1804.0" cy="601.6" r="3.8" fill="#0000FF"/>
<circle cx="1814.1" cy="603.1" r="3.8" fill="#0000FF"/>
<circle cx="1870.9" cy="604.2" r="3.8" fill="#0000FF"/>
<circle cx="1804.0" cy="612.9" r="3.8" fill="#0000FF"/>
<circle cx="1870.9" cy="613.9" r="3.8" fill="#0000FF"/>
<circle cx="1814.1" cy="619.5" r="3.8" fill="#0000FF"/>
<circle cx="1837.5" cy="686.8" r="3.8" fill="#0000FF"/>
<circle cx="1804.0" cy="720.9" r="3.8" fill="#0000FF"/>
<circle cx="1780.7" cy="768.2" r="3.8" fill="#0000FF"/>
<circle cx="1870.9" cy="763.7" r="3.8" fill="#0000FF"/>
<circle cx="1780.7" cy="794.3" r="3.8" fill="#0000FF"/>
<circle cx="1814.1" cy="809.5" r="3.8" fill="#0000FF"/>
<circle cx="1770.6" cy="831.9" r="3.8" fill="#0000FF"/>
<circle cx="2449.7" cy="211.0" r="3.8" fill="#0000FF"/>
<line x1="1491" y1="296.4" x2="2495.8" y2="183.4" stroke="#FF0000" stroke-width="3.5"/>
<line x1="1491" y1="678.1" x2="2495.8" y2="188.4" stroke="#0000FF" stroke-width="3.5"/>
<path d="M1491 152.2 V936.5 H2495.5" fill="none" stroke="#000" stroke-width="2.3"/>
<line x1="1486.2" x2="1491" y1="177.5" y2="177.5" stroke="#000" stroke-width="1.6"/>
<text x="1483.00" y="185.40" font-size="23.43" fill="#000" text-anchor="end" textLength="12.18" lengthAdjust="spacingAndGlyphs">1</text>
<line x1="1486.2" x2="1491" y1="456.25" y2="456.25" stroke="#000" stroke-width="1.6"/>
<text x="1483.00" y="464.15" font-size="23.43" fill="#000" text-anchor="end" textLength="12.18" lengthAdjust="spacingAndGlyphs">0</text>
<line x1="1486.2" x2="1491" y1="735.0" y2="735.0" stroke="#000" stroke-width="1.6"/>
<text x="1483.00" y="742.90" font-size="23.43" fill="#000" text-anchor="end" textLength="24.97" lengthAdjust="spacingAndGlyphs">−1</text>
<line x1="1525.1" x2="1525.1" y1="936.5" y2="941" stroke="#000" stroke-width="1.8"/>
<text x="1525.10" y="962.60" font-size="23.43" fill="#000" text-anchor="middle" textLength="42.62" lengthAdjust="spacingAndGlyphs">0.00</text>
<line x1="1756.25" x2="1756.25" y1="936.5" y2="941" stroke="#000" stroke-width="1.8"/>
<text x="1756.25" y="962.60" font-size="23.43" fill="#000" text-anchor="middle" textLength="42.62" lengthAdjust="spacingAndGlyphs">0.25</text>
<line x1="1987.4" x2="1987.4" y1="936.5" y2="941" stroke="#000" stroke-width="1.8"/>
<text x="1987.40" y="962.60" font-size="23.43" fill="#000" text-anchor="middle" textLength="42.62" lengthAdjust="spacingAndGlyphs">0.50</text>
<line x1="2218.55" x2="2218.55" y1="936.5" y2="941" stroke="#000" stroke-width="1.8"/>
<text x="2218.55" y="962.60" font-size="23.43" fill="#000" text-anchor="middle" textLength="42.62" lengthAdjust="spacingAndGlyphs">0.75</text>
<line x1="2449.7" x2="2449.7" y1="936.5" y2="941" stroke="#000" stroke-width="1.8"/>
<text x="2449.70" y="962.60" font-size="23.43" fill="#000" text-anchor="middle" textLength="42.62" lengthAdjust="spacingAndGlyphs">1.00</text>
<text class="b" x="2.66" y="41.60" font-size="56.6" fill="#000" stroke="#000" stroke-width="0.4" textLength="43.03" lengthAdjust="spacingAndGlyphs">A</text>
<text class="b" x="1361.02" y="43.90" font-size="57.2" fill="#000" textLength="32.21" lengthAdjust="spacingAndGlyphs">B</text>
<text class="b" x="351.97" y="126.80" font-size="37.8" fill="#000" textLength="95.93" lengthAdjust="spacingAndGlyphs">class</text>
<text x="507.89" y="129.50" font-size="29.8" fill="#000" textLength="87.12" lengthAdjust="spacingAndGlyphs">S37°C</text>
<text x="675.98" y="129.50" font-size="29.8" fill="#000" textLength="71.00" lengthAdjust="spacingAndGlyphs">S4°C</text>
<text x="819.98" y="129.50" font-size="29.8" fill="#000" textLength="87.53" lengthAdjust="spacingAndGlyphs">S25°C</text>
<text class="b" x="592.19" y="1004.00" font-size="31.0" fill="#000" textLength="186.76" lengthAdjust="spacingAndGlyphs">PC1 (33.09%)</text>
<text class="b" transform="translate(81.00 633.71) rotate(-90)" x="0" y="0" font-size="30.8" fill="#000" textLength="170.30" lengthAdjust="spacingAndGlyphs">PC2 (9.55%)</text>
<text class="b" transform="translate(1422.80 581.65) rotate(-90)" x="0" y="0" font-size="28.7" fill="#000" textLength="74.57" lengthAdjust="spacingAndGlyphs">Value</text>
<text class="b" x="1968.62" y="1004.80" font-size="29.5" fill="#000" textLength="49.19" lengthAdjust="spacingAndGlyphs">Cor</text>
<text x="2171.39" y="821.70" font-size="29.0" fill="#000" textLength="287.36" lengthAdjust="spacingAndGlyphs">Intercept of R2: 0.5877</text>
<text x="2171.39" y="910.80" font-size="29.0" fill="#000" textLength="305.33" lengthAdjust="spacingAndGlyphs">Intercept of Q2: −0.7376</text>
</svg></body></html>
